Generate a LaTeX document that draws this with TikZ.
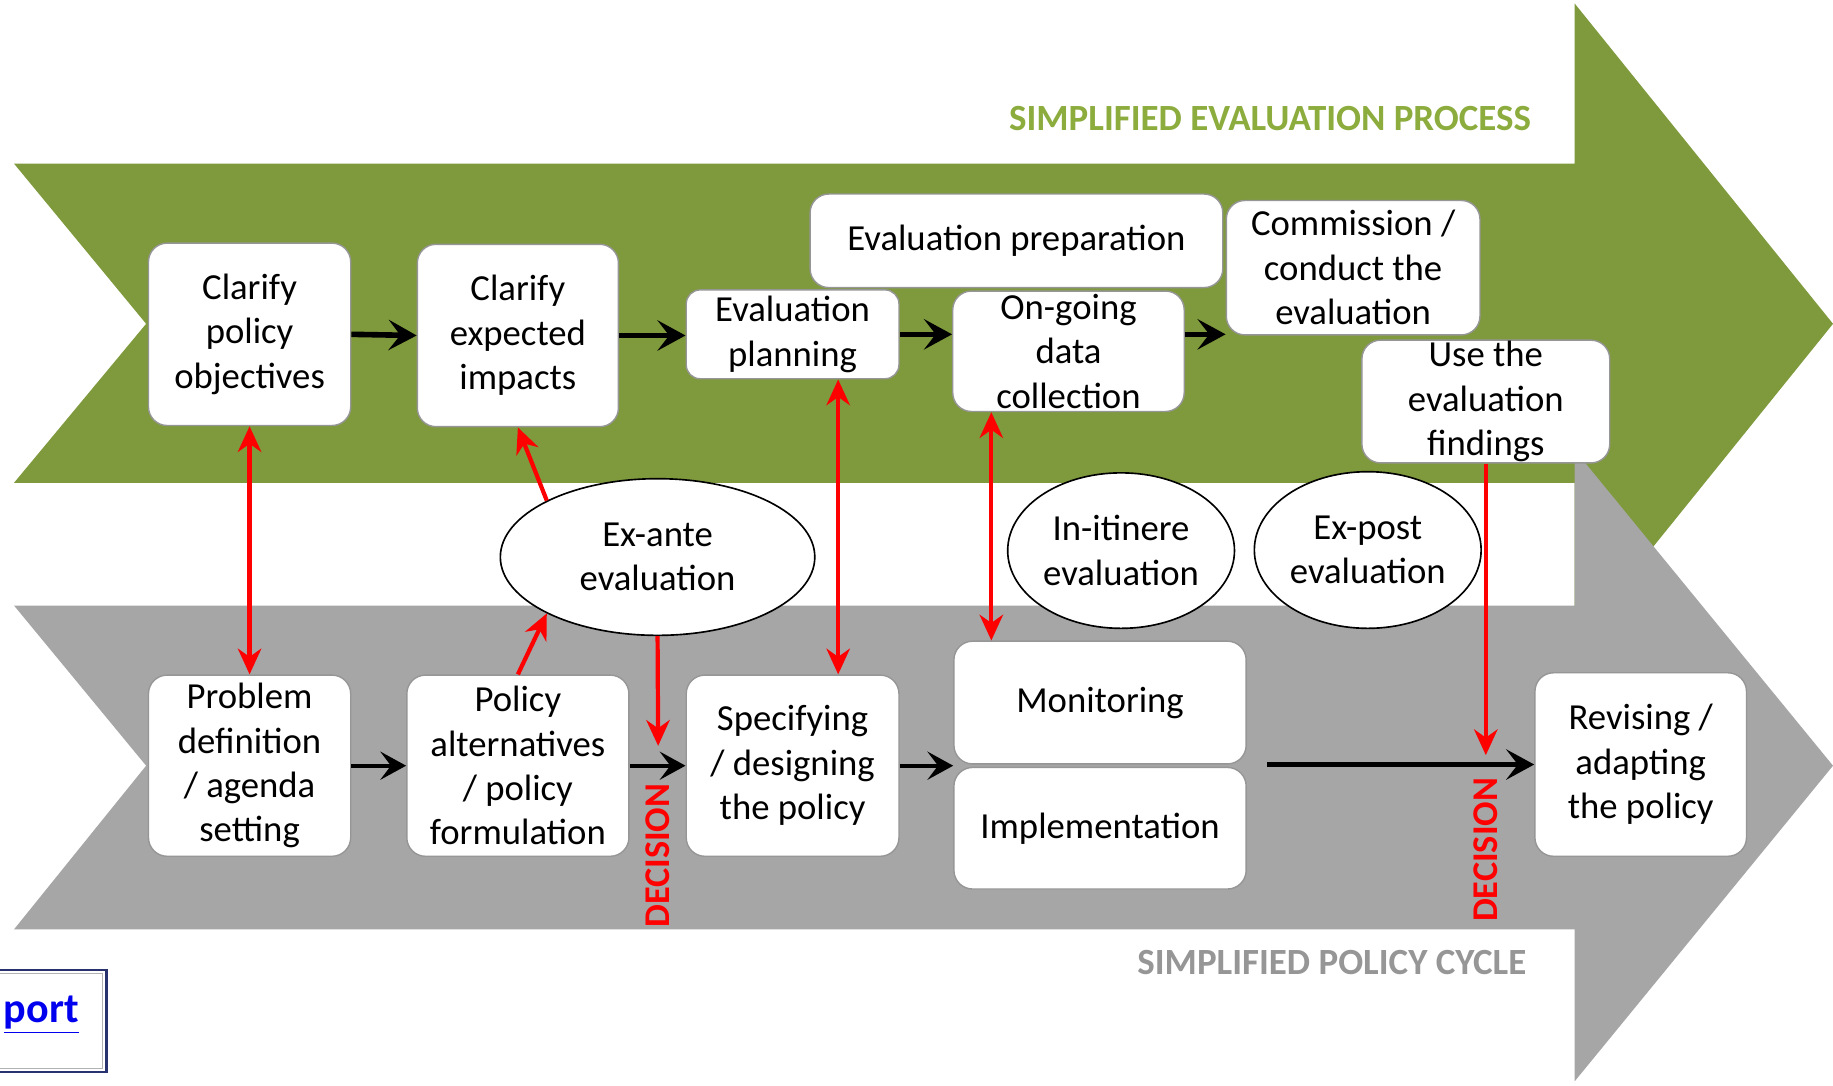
\documentclass[tikz,border=0pt]{standalone}
\usepackage{fontspec}
\setmainfont{Carlito}
\usetikzlibrary{arrows.meta,shapes.geometric}
\definecolor{bandgreen}{RGB}{127,153,61}
\definecolor{bandgray}{RGB}{166,166,166}
\definecolor{titlegreen}{RGB}{140,172,62}
\definecolor{titlegray}{RGB}{150,150,150}
\definecolor{boxline}{RGB}{150,150,150}
\definecolor{linkblue}{RGB}{0,0,238}
\definecolor{framenavy}{RGB}{40,50,110}
\begin{document}
\begin{tikzpicture}[x=0.5pt,y=-0.5pt,
  every node/.style={font=\fontsize{15.7}{19}\selectfont, align=center},
  stagebox/.style={draw=boxline, fill=white, rounded corners=8pt, inner sep=0pt, line width=0.6pt},
  evalell/.style={ellipse, draw=black, fill=white, inner sep=0pt, line width=0.7pt},
  blk/.style={line width=2.4pt, -{Stealth[length=12pt,width=13pt,inset=5pt]}},
  blkthin/.style={line width=1.8pt, -{Stealth[length=11pt,width=12pt,inset=4.5pt]}},
  redarr/.style={red, line width=1.8pt, -{Stealth[length=11pt,width=10pt,inset=3.5pt]}},
  redboth/.style={red, line width=1.8pt, {Stealth[length=11pt,width=10pt,inset=3.5pt]}-{Stealth[length=11pt,width=10pt,inset=3.5pt]}},
  decision/.style={text=red, font=\fontsize{15.5}{18}\bfseries\selectfont, rotate=90, inner sep=0pt},
  bandtitle/.style={font=\fontsize{15.8}{19}\bfseries\selectfont, anchor=east, inner sep=0pt}
]
\useasboundingbox (0,0) rectangle (1568,929);
\fill[white] (0,0) rectangle (1568,929);
% bands
\fill[bandgreen] (12,140) -- (1347,140) -- (1347,3) -- (1568,277) -- (1347,551) -- (1347,413) -- (12,413) -- (125,277) -- cycle;
\fill[bandgray] (12,518) -- (1347,518) -- (1347,385) -- (1568,655) -- (1347,925) -- (1347,795) -- (12,795) -- (125,655) -- cycle;
% titles
\node[bandtitle, text=titlegreen] (t1) at (1310,101) {SIMPLIFIED EVALUATION PROCESS};
\node[bandtitle, text=titlegray] (t2) at (1306,823) {SIMPLIFIED POLICY CYCLE};
% link box
\draw[framenavy, line width=1pt] (-20,830) rectangle (91,917);
\draw[gray!60, line width=0.5pt] (-20,833) rectangle (88,914);
\node[anchor=west, text=linkblue, font=\fontsize{18}{21}\bfseries\selectfont, inner sep=0pt] (port) at (3,868) {\underline{port}};
% top boxes
\node[stagebox, minimum width=86.5pt, minimum height=78pt] (cpo) at (213.5,286) {Clarify\\policy\\objectives};
\node[stagebox, minimum width=86pt, minimum height=78pt] (cei) at (443,287) {Clarify\\expected\\impacts};
\node[stagebox, minimum width=91pt, minimum height=38pt, rounded corners=6pt] (epl) at (678,286) {Evaluation\\planning};
\node[stagebox, minimum width=176.5pt, minimum height=40pt] (epr) at (869.5,206) {Evaluation preparation};
\node[stagebox, minimum width=99pt, minimum height=51.5pt] (odc) at (914,300.5) {On-going\\data\\collection};
\node[stagebox, minimum width=108.5pt, minimum height=57.5pt] (com) at (1157.5,229) {Commission /\\conduct the\\evaluation};
\node[stagebox, minimum width=106pt, minimum height=52.5pt] (use) at (1271,343.5) {Use the\\evaluation\\findings};
% ellipses
\node[evalell, minimum width=134.5pt, minimum height=67pt] (exa) at (562.5,476.5) {Ex-ante\\evaluation};
\node[evalell, minimum width=97pt, minimum height=66.5pt] (itin) at (959,471) {In-itinere\\evaluation};
\node[evalell, minimum width=97pt, minimum height=67pt] (expo) at (1170,470.5) {Ex-post\\evaluation};
% bottom boxes
\node[stagebox, minimum width=86.5pt, minimum height=77.5pt] (pdef) at (213.5,655) {Problem\\definition\\/ agenda\\setting};
\node[stagebox, minimum width=95pt, minimum height=77.5pt] (palt) at (443,655) {Policy\\alternatives\\/ policy\\formulation};
\node[stagebox, minimum width=91pt, minimum height=77.5pt] (spec) at (678,655) {Specifying\\/ designing\\the policy};
\node[stagebox, minimum width=125pt, minimum height=52.5pt] (mon) at (941,601) {Monitoring};
\node[stagebox, minimum width=125pt, minimum height=52pt] (impl) at (941,708.5) {Implementation};
\node[stagebox, minimum width=90.5pt, minimum height=78.5pt] (rev) at (1403.5,654) {Revising /\\adapting\\the policy};
% black arrows top
\draw[blk] (cpo.east) -- (cei.west);
\draw[blk] (cei.east) -- (cei.east -| epl.west);
\draw[blk] (epl.east) -- (epl.east -| odc.west);
\draw[blk] (odc.east |- epl.east) -- (com.west |- epl.east);
% black arrows bottom
\draw[blkthin] (pdef.east) -- (palt.west);
\draw[blkthin] (palt.east |- spec.east) -- (spec.west);
\draw[blkthin] (spec.east) -- (spec.east -| mon.west);
\coordinate (longstart) at (1084,654);
\draw[blk] (longstart) -- (rev.west);
% red arrows
\coordinate (dec1) at (563,638);
\coordinate (dec2) at (1271,646);
\draw[redboth] (cpo.south) -- (pdef.north);
\draw[redarr] (exa.153) -- (cei.south);
\draw[redarr] (palt.north) -- (exa.207);
\draw[redarr] (exa.south) -- (dec1);
\draw[redboth] ([xshift=19.5pt]epl.south) -- ([xshift=19.5pt]spec.north);
\draw[redboth] ([xshift=-33pt]odc.south) -- ([xshift=-33pt]odc.south |- mon.north);
\draw[redarr] (use.south) -- (dec2);
% decision labels
\node[decision] (d1) at (563,732) {DECISION};
\node[decision] (d2) at (1271,727) {DECISION};
\end{tikzpicture}
\end{document}
